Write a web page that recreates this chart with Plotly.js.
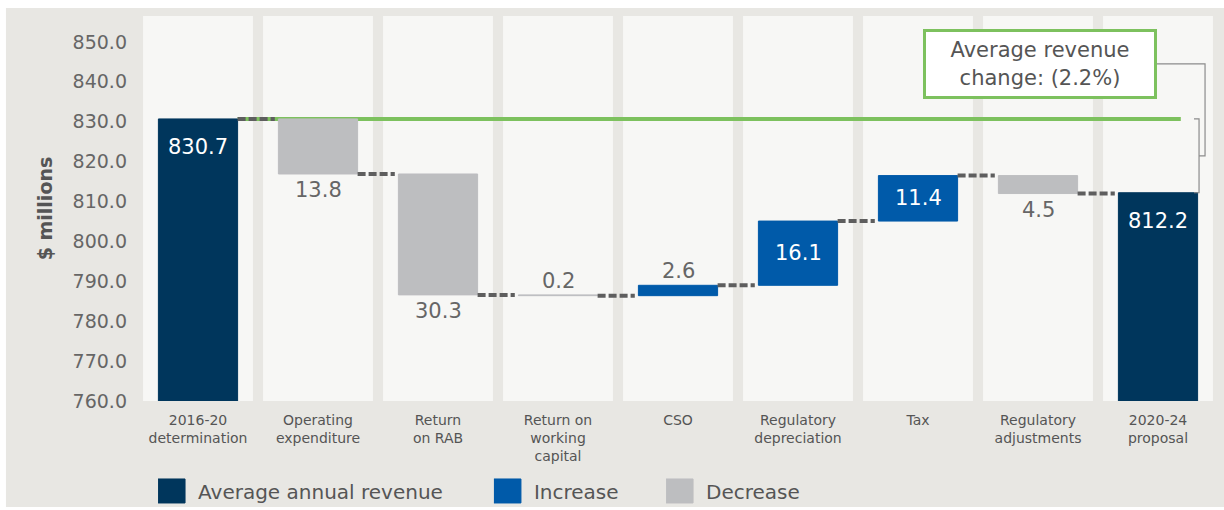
<!DOCTYPE html>
<html><head><meta charset="utf-8">
<script src="https://cdn.plot.ly/plotly-3.0.1.min.js"></script>
<style>html,body{margin:0;padding:0;background:#fff;}#chart{width:1224px;height:510px;}</style>
</head><body><div id="chart"></div>
<script>
// ---- data ----
const categories = ["2016-20<br>determination","Operating<br>expenditure","Return<br>on RAB","Return on<br>working<br>capital","CSO","Regulatory<br>depreciation","Tax","Regulatory<br>adjustments","2020-24<br>proposal"];
const measures = ["total","decrease","decrease","decrease","increase","increase","increase","decrease","total"];
const values = [830.7, 13.8, 30.3, 0.2, 2.6, 16.1, 11.4, 4.5, 812.2];
const valueLabels = ["830.7","13.8","30.3","0.2","2.6","16.1","11.4","4.5","812.2"];
const seriesNames = {total: "Average annual revenue", increase: "Increase", decrease: "Decrease"};
const yTickValues = [760, 770, 780, 790, 800, 810, 820, 830, 840, 850];
const yTitle = "$ millions";
const changeNote = "Average revenue<br>change: (2.2%)";

// ---- styles ----
const colors = {total: "#00365c", increase: "#005aa9", decrease: "#bdbec0"};
const labelPlacement = ["insideTop","below","below","above","above","middle","middle","below","insideTop"];
const FONT = '"DejaVu Sans", sans-serif';
const BAR_W = 0.66;

// ---- compute waterfall geometry from data ----
let level = 0;
const bottoms = [], tops = [], after = [];
values.forEach((v, i) => {
  const m = measures[i];
  if (m === "total") { bottoms.push(0); tops.push(v); level = v; }
  else if (m === "increase") { bottoms.push(level); tops.push(level + v); level += v; }
  else { tops.push(level); bottoms.push(level - v); level -= v; }
  after.push(level);
});

const traces = [];
const legendFor = {total: "legend", increase: "legend2", decrease: "legend3"};
["total","increase","decrease"].forEach(m => {
  const xs = [], ys = [], bs = [], tx = [];
  values.forEach((v, i) => {
    if (measures[i] !== m) return;
    xs.push(i); ys.push(tops[i] - bottoms[i]); bs.push(bottoms[i]); tx.push(valueLabels[i]);
  });
  traces.push({
    type: "bar", name: seriesNames[m], x: xs, y: ys, base: bs, width: BAR_W,
    marker: {color: colors[m], line: {color: colors[m], width: 1}},
    legend: legendFor[m], hovertext: tx, hoverinfo: "text"
  });
});

// connectors
const cx = [], cy = [];
for (let i = 0; i < values.length - 1; i++) {
  cx.push(i + BAR_W / 2, i + 1 - BAR_W / 2 - 0.03, null);
  cy.push(after[i], after[i], null);
}
traces.push({type: "scatter", mode: "lines", x: cx, y: cy, showlegend: false, hoverinfo: "skip",
  line: {color: "#5e5e5e", width: 4, dash: "8px,3px"}});

// ---- shapes ----
const shapes = [];
shapes.push({type: "rect", xref: "paper", yref: "paper", x0: -0.1226, x1: 1.01, y0: -0.275, y1: 1.0208,
  fillcolor: "#e8e7e3", line: {width: 0}, layer: "below"});
categories.forEach((c, i) => {
  shapes.push({type: "rect", xref: "x", yref: "paper", x0: i - 0.458, x1: i + 0.458, y0: 0, y1: 1,
    fillcolor: "#f7f7f5", line: {width: 0}, layer: "below"});
});
const startVal = values[0], endVal = values[values.length - 1];
shapes.push({type: "line", xref: "x", yref: "y", x0: BAR_W / 2, x1: 8.19, y0: startVal, y1: startVal,
  line: {color: "#7dc15e", width: 4}, layer: "below"});
const midVal = (startVal + endVal) / 2;
shapes.push({type: "path", xref: "x", yref: "y",
  path: `M8.30,${startVal} L8.342,${startVal} L8.342,${endVal} L8.30,${endVal}`,
  line: {color: "#8c8c8c", width: 1.2}});
shapes.push({type: "path", xref: "x", yref: "y",
  path: `M7.99,844.5 L8.392,844.5 L8.392,${midVal} L8.342,${midVal}`,
  line: {color: "#8c8c8c", width: 1.2}});

// ---- annotations ----
const annotations = [];
values.forEach((v, i) => {
  const p = labelPlacement[i];
  const a = {x: i, xref: "x", yref: "y", text: valueLabels[i], showarrow: false,
    font: {family: FONT, size: 21, color: "#666666"}};
  if (p === "insideTop") { a.y = tops[i]; a.yanchor = "top"; a.yshift = -14; a.font.color = "#ffffff"; }
  else if (p === "middle") { a.y = (tops[i] + bottoms[i]) / 2; a.yanchor = "middle"; a.font.color = "#ffffff"; }
  else if (p === "below") { a.y = bottoms[i]; a.yanchor = "top"; a.yshift = -2; }
  else { a.y = tops[i]; a.yanchor = "bottom"; a.yshift = 0; }
  annotations.push(a);
});
annotations.push({x: 7.017, y: 844.5, xref: "x", yref: "y", text: changeNote, showarrow: false,
  font: {family: FONT, size: 21, color: "#555555"}, bgcolor: "#ffffff", bordercolor: "#7dc15e",
  borderwidth: 3, borderpad: 2, width: 224, height: 60, align: "center"});

const legendBase = {orientation: "h", yanchor: "middle", xanchor: "left", yref: "container", y: 0.0373,
  font: {family: FONT, size: 20, color: "#555555"}, bgcolor: "rgba(0,0,0,0)"};

const layout = {
  width: 1224, height: 510,
  margin: {l: 138, r: 9, t: 16, b: 109},
  paper_bgcolor: "#ffffff", plot_bgcolor: "rgba(0,0,0,0)",
  font: {family: FONT, color: "#666666"},
  barmode: "overlay",
  xaxis: {range: [-0.5, 8.475], tickvals: categories.map((c, i) => i), ticktext: categories,
    showgrid: false, zeroline: false, showline: false, ticks: "", ticklabelstandoff: 9, automargin: false,
    tickfont: {family: FONT, size: 14, color: "#555555"}, fixedrange: true},
  yaxis: {range: [760, 856.5], tickvals: yTickValues, tickformat: ".1f", automargin: false,
    showgrid: false, zeroline: false, showline: false, ticks: "", ticklabelstandoff: 10,
    tickfont: {family: FONT, size: 19, color: "#666666"},
    title: {text: yTitle, font: {family: FONT, size: 19, color: "#555555", weight: 700}, standoff: 14},
    fixedrange: true},
  showlegend: true,
  legend: Object.assign({}, legendBase, {x: 0.0186}),
  legend2: Object.assign({}, legendBase, {x: 0.3305}),
  legend3: Object.assign({}, legendBase, {x: 0.4903}),
  shapes: shapes, annotations: annotations
};

function bigSymbols() {
  document.querySelectorAll("g.legendpoints path").forEach(p => p.setAttribute("d", "M7,12H-21V-12H7Z"));
}
Plotly.newPlot("chart", traces, layout, {displayModeBar: false, staticPlot: true}).then(gd => {
  gd.on("plotly_afterplot", bigSymbols);
  bigSymbols();
  setTimeout(bigSymbols, 50);
});
</script>
</body></html>
